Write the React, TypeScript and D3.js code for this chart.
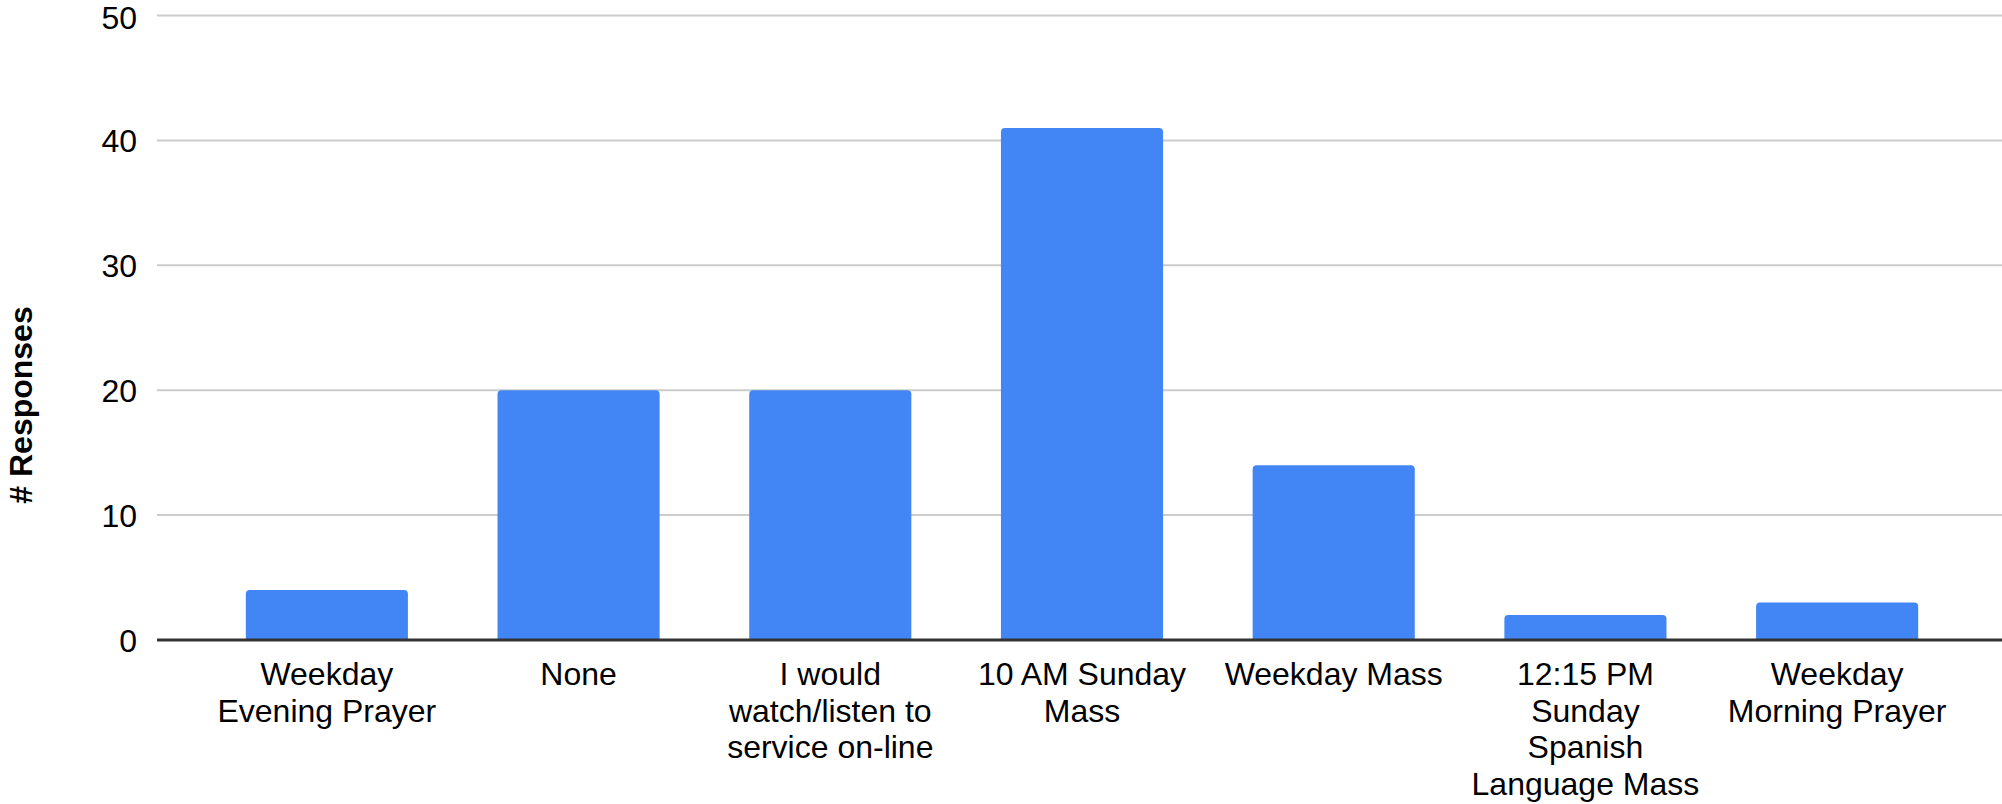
import React, { useEffect, useRef } from "react";
import * as d3 from "d3";

const categories = [
  "Weekday Evening Prayer",
  "None",
  "I would watch/listen to service on-line",
  "10 AM Sunday Mass",
  "Weekday Mass",
  "12:15 PM Sunday Spanish Language Mass",
  "Weekday Morning Prayer",
];
const labelLines = [
  ["Weekday", "Evening Prayer"],
  ["None"],
  ["I would", "watch/listen to", "service on-line"],
  ["10 AM Sunday", "Mass"],
  ["Weekday Mass"],
  ["12:15 PM", "Sunday", "Spanish", "Language Mass"],
  ["Weekday", "Morning Prayer"],
];
const responses = [4, 20, 20, 41, 14, 2, 3];
const yTicks = [0, 10, 20, 30, 40, 50];

const App = () => {
  const svgRef = useRef<SVGSVGElement>(null);

  useEffect(() => {
    const width = 2002;
    const height = 804;
    const font = "Arial, 'Liberation Sans', sans-serif";

    const svg = d3.select(svgRef.current);
    svg.selectAll("*").remove();
    svg.attr("width", width).attr("height", height);

    const x = d3
      .scaleBand()
      .domain(categories)
      .range([201, 1963])
      .paddingInner(0.356)
      .paddingOuter(0.178);

    const y = d3.scaleLinear().domain([0, 50]).range([640, 15.5]);

    // gridlines
    svg
      .append("g")
      .selectAll("line")
      .data(yTicks.filter((t) => t !== 0))
      .enter()
      .append("line")
      .attr("x1", 157)
      .attr("x2", width)
      .attr("y1", (d) => y(d))
      .attr("y2", (d) => y(d))
      .attr("stroke", "#cccccc")
      .attr("stroke-width", 2);

    // y tick labels
    svg
      .append("g")
      .selectAll("text")
      .data(yTicks)
      .enter()
      .append("text")
      .attr("x", 137)
      .attr("y", (d) => y(d))
      .attr("dy", (d) => (d === 50 ? "0.42em" : "0.36em"))
      .attr("text-anchor", "end")
      .attr("font-family", font)
      .attr("font-size", 32)
      .attr("fill", "#000")
      .text((d) => d);

    // bars with rounded tops
    const r = 4;
    svg
      .append("g")
      .selectAll("path")
      .data(responses)
      .enter()
      .append("path")
      .attr("d", (d, i) => {
        const x0 = x(categories[i])!;
        const x1 = x0 + x.bandwidth();
        const y0 = y(0);
        const y1 = y(d);
        return `M${x0},${y0}V${y1 + r}Q${x0},${y1} ${x0 + r},${y1}H${x1 - r}Q${x1},${y1} ${x1},${y1 + r}V${y0}Z`;
      })
      .attr("fill", "#4285f4");

    // baseline
    svg
      .append("line")
      .attr("x1", 157)
      .attr("x2", width)
      .attr("y1", y(0))
      .attr("y2", y(0))
      .attr("stroke", "#333333")
      .attr("stroke-width", 3);

    // x labels
    const lab = svg
      .append("g")
      .selectAll("text")
      .data(categories)
      .enter()
      .append("text")
      .attr("x", (d) => x(d)! + x.bandwidth() / 2)
      .attr("y", 685)
      .attr("text-anchor", "middle")
      .attr("font-family", font)
      .attr("font-size", 32)
      .attr("fill", "#000");

    lab
      .selectAll("tspan")
      .data((d, i) => labelLines[i].map((t) => ({ t, c: d })))
      .enter()
      .append("tspan")
      .attr("x", (d) => x(d.c)! + x.bandwidth() / 2)
      .attr("dy", (d, j) => (j === 0 ? 0 : 36.7))
      .text((d) => d.t);

    // y title
    svg
      .append("text")
      .attr("transform", "translate(31.5,405) rotate(-90)")
      .attr("text-anchor", "middle")
      .attr("font-family", font)
      .attr("font-size", 32)
      .attr("font-weight", "bold")
      .attr("fill", "#000")
      .text("# Responses");
  }, []);

  return (
    <svg
      ref={svgRef}
      style={{ position: "absolute", left: 0, top: 0, background: "#fff" }}
    ></svg>
  );
};

export default App;
